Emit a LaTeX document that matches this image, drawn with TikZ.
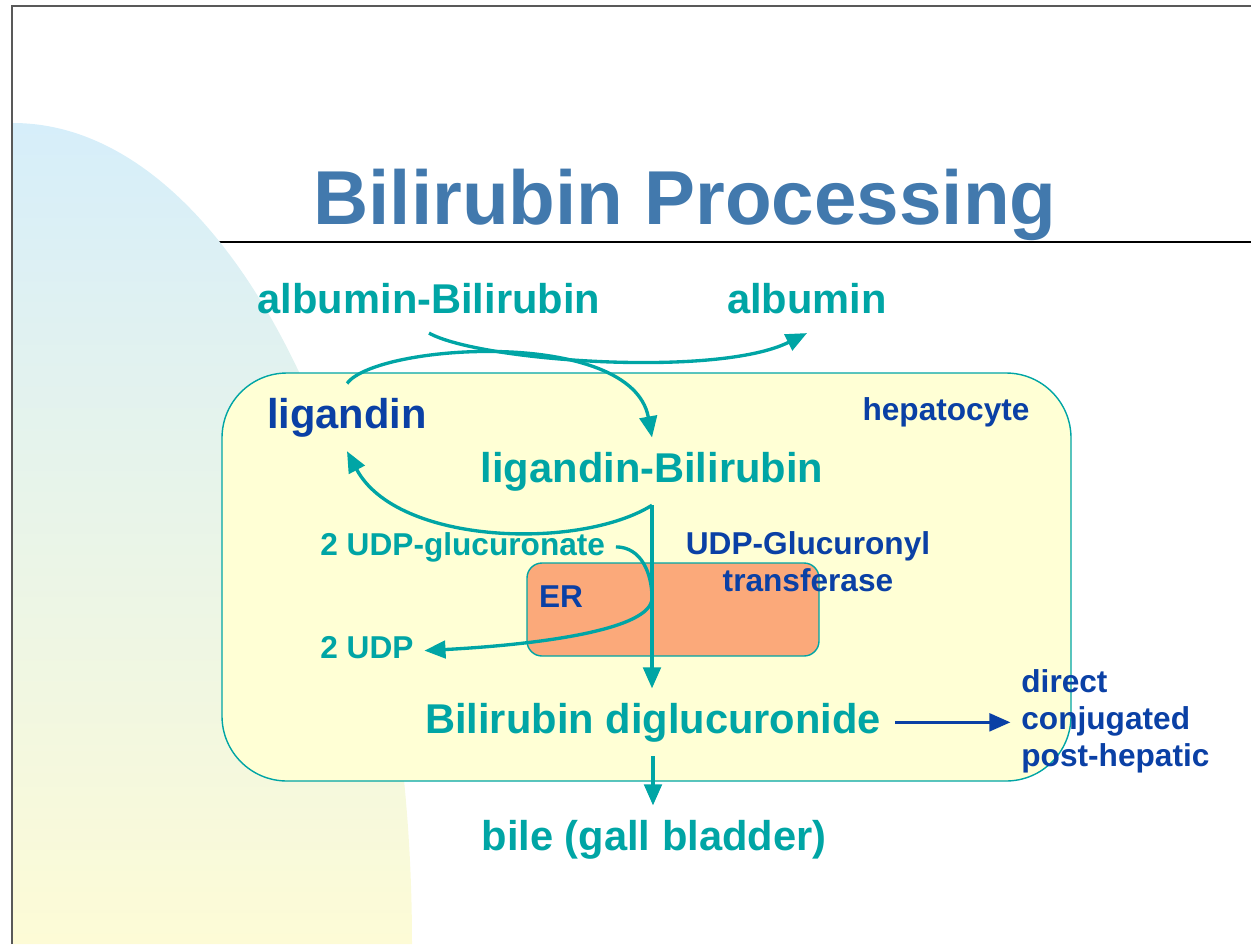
\documentclass[tikz,border=0pt]{standalone}
\usepackage{fontspec}
\setmainfont{Liberation Sans}
\usetikzlibrary{arrows.meta}
\definecolor{tealc}{RGB}{0,165,165}
\definecolor{navyc}{RGB}{10,64,165}
\definecolor{titlec}{RGB}{66,121,173}
\definecolor{cellc}{RGB}{255,255,213}
\definecolor{erc}{RGB}{251,169,122}
\definecolor{skyc}{RGB}{214,238,250}
\definecolor{sandc}{RGB}{253,251,214}
\tikzset{
  big/.style={font=\fontsize{23.7}{28}\selectfont\bfseries, inner sep=8pt},
  small/.style={font=\fontsize{18}{21}\selectfont\bfseries, inner sep=6pt},
  flow/.style={draw=tealc, line width=1.9pt, -{Triangle[length=12pt,width=10pt]}},
}

\begin{document}
\begin{tikzpicture}[x=0.02cm,y=-0.02cm]
  \useasboundingbox (0,0) rectangle (1251,944);
  \draw[line width=1.2pt] (12,242) -- (1251,242);
  \shade[top color=skyc, bottom color=sandc] (13,944) -- (13,123) .. controls (233,123) and (412,491) .. (412,944) -- cycle;
  \draw[gray!70!black, line width=0.8pt] (12,944) -- (12,6) -- (1251,6);
  \draw[tealc, line width=0.8pt, fill=cellc, rounded corners=1.3cm] (222,373) rectangle (1071,781);
  \draw[tealc, line width=0.8pt, fill=erc, rounded corners=0.3cm] (527,563) rectangle (819,656);

  \node[anchor=base, font=\fontsize{43.5}{50}\selectfont\bfseries, text=titlec] (title) at (685,224) {Bilirubin Processing};
  \node[big, text=tealc, anchor=base] (albBil) at (429,313) {albumin-Bilirubin};
  \node[big, text=tealc, anchor=base] (alb) at (807,313) {albumin};
  \node[big, text=navyc, anchor=base] (lig) at (347,428) {ligandin};
  \node[small, text=navyc, anchor=base] (hep) at (946,420) {hepatocyte};
  \node[big, text=tealc, anchor=base] (ligBil) at (652,482) {ligandin-Bilirubin};
  \node[small, text=tealc, anchor=base west] (gluc) at (309.5,555) {2 UDP-glucuronate};
  \node[small, text=navyc, align=center] (ugt) at (808,562) {UDP-Glucuronyl\\transferase};
  \node[small, text=navyc, anchor=base] (er) at (561,607) {ER};
  \node[small, text=tealc, anchor=base west] (udp) at (309.5,658) {2 UDP};
  \node[big, text=tealc, anchor=base] (diglu) at (653,733) {Bilirubin diglucuronide};
  \node[small, text=navyc, align=left, anchor=west] (post) at (1010.5,721) {direct\\conjugated\\post-hepatic};
  \node[big, text=tealc, anchor=base] (bile) at (654,850) {bile (gall bladder)};

  \draw[flow] ([yshift=-3pt]albBil.south) .. controls +(50,28) and +(-90,45) .. ([yshift=-3pt]alb.south);
  \draw[flow] (lig.north) .. controls +(30,-40) and +(-20,-110) .. (ligBil.north);
  \draw[flow] (ligBil.south) .. controls +(-72,45) and +(50,94) .. (lig.south);
  \draw[flow] (ligBil.south) -- (ligBil.south |- diglu.north);
  \draw[flow] (gluc.east) .. controls +(25,0) and +(0,-25) .. (652,598) .. controls +(0,32) and +(113,-6) .. ([yshift=-2pt]udp.east);
  \draw[flow] (diglu.south) -- (diglu.south |- bile.north);
  \draw[flow, draw=navyc, line width=2pt] (diglu.east) -- (diglu.east -| post.west);
\end{tikzpicture}
\end{document}
